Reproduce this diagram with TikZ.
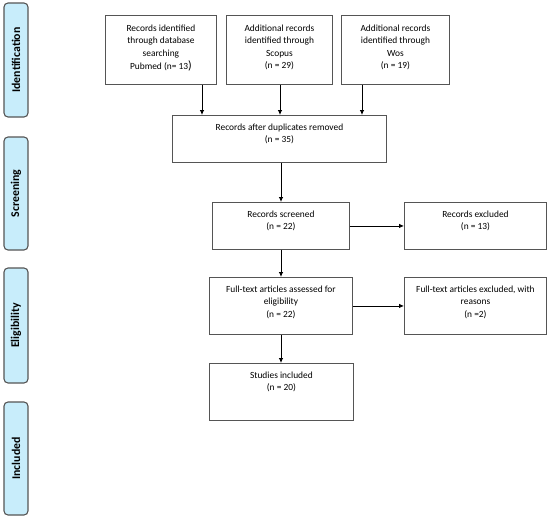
\documentclass[tikz,border=0pt]{standalone}
\usepackage{fontspec}
\setmainfont{Carlito}
\usetikzlibrary{arrows.meta}
\definecolor{phase}{HTML}{C8EDFB}
\definecolor{edge}{HTML}{555555}
\tikzset{
  x=1pt, y=-1pt,
  phasebar/.style={draw=edge, line width=1.1pt, fill=phase, rounded corners=4pt},
  phaselabel/.style={rotate=90, font=\fontsize{11.8}{13}\selectfont\bfseries, text=black},
  boxframe/.style={draw=edge, line width=0.9pt},
  boxtext/.style={anchor=north, align=center, inner sep=0pt, font=\fontsize{9.4}{12.2}\selectfont},
  flow/.style={draw=black, line width=0.8pt, -{Latex[length=5pt,width=4.5pt]}}
}
\begin{document}
\begin{tikzpicture}
\useasboundingbox (0,0) rectangle (550,520);
% phase bars
\draw[phasebar] (4,3) rectangle (28,117);
\node[phaselabel] (lid) at (16,60) {Identification};
\draw[phasebar] (4,137) rectangle (28,250);
\node[phaselabel] (lsc) at (16,193.5) {Screening};
\draw[phasebar] (4,268) rectangle (28,383);
\node[phaselabel] (lel) at (16,325.5) {Eligibility};
\draw[phasebar] (4,402) rectangle (28,515);
\node[phaselabel] (lin) at (16,458.5) {Included};
% boxes
\node[boxframe, minimum width=111pt, minimum height=69pt, anchor=north west] (b1) at (105,15) {};
\node[boxtext] (t1) at ([yshift=-10pt]b1.north) {Records identified\\through database\\searching\\[1pt]Pubmed (n= 13{\large)}};
\node[boxframe, minimum width=106pt, minimum height=69pt, anchor=north west] (b2) at (226,15) {};
\node[boxtext] (t2) at ([yshift=-10pt]b2.north) {Additional records\\identified through\\Scopus\\(n = 29)};
\node[boxframe, minimum width=108pt, minimum height=69pt, anchor=north west] (b3) at (341,15) {};
\node[boxtext] (t3) at ([yshift=-10pt]b3.north) {Additional records\\identified through\\Wos\\(n = 19)};
\node[boxframe, minimum width=214pt, minimum height=47pt, anchor=north west] (dup) at (172,115) {};
\node[boxtext] (tdup) at ([yshift=-9pt]dup.north) {Records after duplicates removed\\(n = 35)};
\node[boxframe, minimum width=137pt, minimum height=47pt, anchor=north west] (scr) at (212,202) {};
\node[boxtext] (tscr) at ([yshift=-9pt]scr.north) {Records screened\\(n = 22)};
\node[boxframe, minimum width=142pt, minimum height=47pt, anchor=north west] (exc) at (404,202) {};
\node[boxtext] (texc) at ([yshift=-9pt]exc.north) {Records excluded\\(n = 13)};
\node[boxframe, minimum width=143pt, minimum height=57pt, anchor=north west] (ft) at (209,277) {};
\node[boxtext] (tft) at ([yshift=-9pt]ft.north) {Full-text articles assessed for\\eligibility\\(n = 22)};
\node[boxframe, minimum width=142pt, minimum height=57pt, anchor=north west] (fte) at (404,277) {};
\node[boxtext] (tfte) at ([yshift=-9pt]fte.north) {Full-text articles excluded, with\\reasons\\(n =2)};
\node[boxframe, minimum width=144pt, minimum height=57pt, anchor=north west] (inc) at (209,363) {};
\node[boxtext] (tinc) at ([yshift=-9pt]inc.north) {Studies included\\(n = 20)};
% arrows
\draw[flow] (b1.south -| 202,0) -- (dup.north -| 202,0);
\draw[flow] (b2.south -| 280,0) -- (dup.north -| 280,0);
\draw[flow] (b3.south -| 362,0) -- (dup.north -| 362,0);
\draw[flow] (dup.south -| 281,0) -- (scr.north -| 281,0);
\draw[flow] (scr.south -| 281,0) -- (ft.north -| 281,0);
\draw[flow] (ft.south -| 281,0) -- (inc.north -| 281,0);
\draw[flow] (scr.east) -- (exc.west);
\draw[flow] (ft.east) -- (fte.west);
\end{tikzpicture}
\end{document}
